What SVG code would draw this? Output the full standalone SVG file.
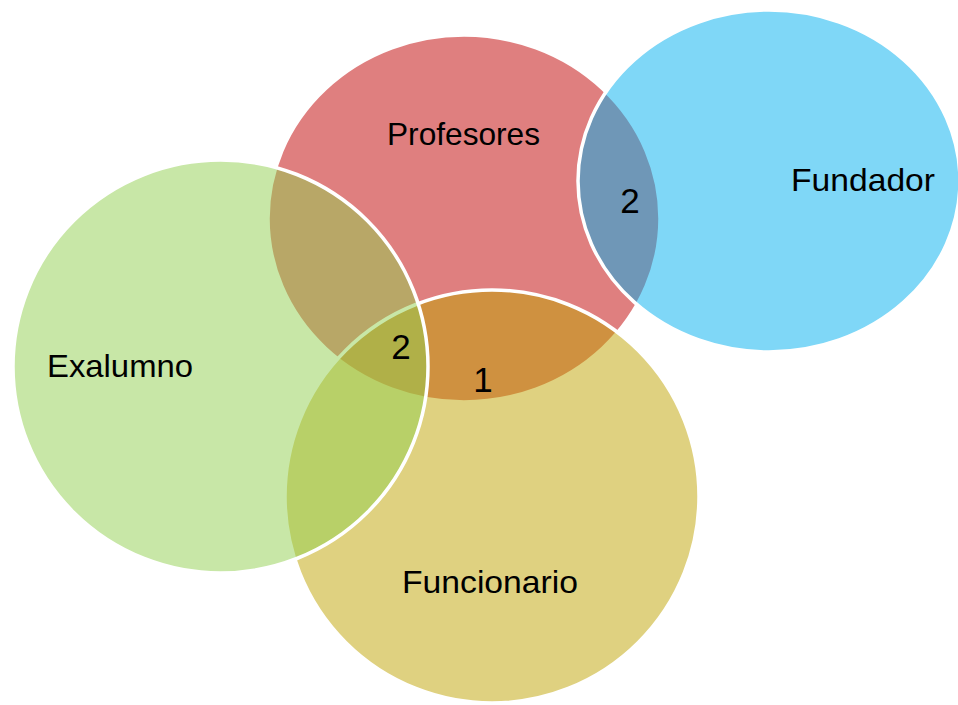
<svg xmlns="http://www.w3.org/2000/svg" width="958" height="705" viewBox="0 0 958 705">
  <style>
    .set { fill-opacity: 0.5; stroke: #ffffff; stroke-width: 3.5; }
    .label { font-family: "Liberation Sans", Arial, sans-serif; font-size: 32px; fill: #000000; text-anchor: middle; }
    .count { font-family: "Liberation Sans", Arial, sans-serif; font-size: 35px; fill: #000000; text-anchor: middle; }
  </style>
  <rect width="958" height="705" fill="#ffffff"/>

  <!-- sets, drawn back to front -->
  <g id="profesores">
    <ellipse class="set" cx="464" cy="218.5" rx="196" ry="183.5" fill="#C00000" stroke="none"/>
  </g>
  <g id="fundador">
    <ellipse class="set" cx="769" cy="181" rx="191" ry="171" fill="#00AFEF"/>
  </g>
  <g id="funcionario">
    <ellipse class="set" cx="492" cy="496.5" rx="207" ry="206.5" fill="#BFA302"/>
  </g>
  <g id="exalumno">
    <ellipse class="set" cx="220.5" cy="366.5" rx="207.5" ry="206.5" fill="#92D050"/>
  </g>

  <!-- connectors: none in this diagram -->
  <g id="connectors"/>

  <!-- labels -->
  <g id="labels">
    <text class="label" x="463.5" y="145" textLength="153" lengthAdjust="spacingAndGlyphs">Profesores</text>
    <text class="label" x="863" y="191" textLength="144" lengthAdjust="spacingAndGlyphs">Fundador</text>
    <text class="label" x="120" y="377" textLength="146" lengthAdjust="spacingAndGlyphs">Exalumno</text>
    <text class="label" x="490" y="593" textLength="176" lengthAdjust="spacingAndGlyphs">Funcionario</text>
    <text class="count" x="401" y="359">2</text>
    <text class="count" x="483" y="392">1</text>
    <text class="count" x="630" y="213">2</text>
  </g>
</svg>
